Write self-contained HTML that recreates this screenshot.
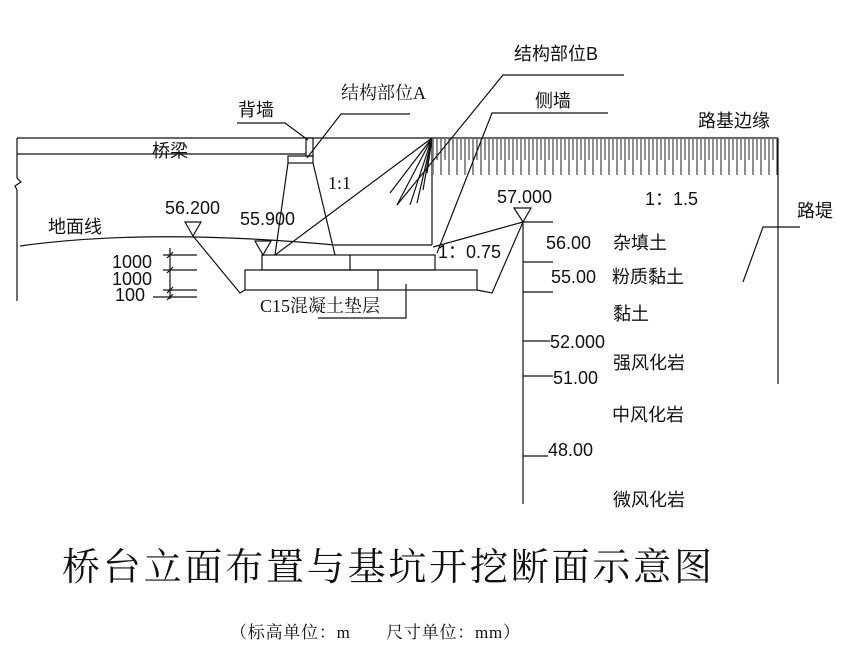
<!DOCTYPE html>
<html><head><meta charset="utf-8"><style>
html,body{margin:0;padding:0;background:#fff;}
svg{display:block;}
text{font-family:"Liberation Sans","Noto Sans CJK SC",sans-serif;fill:#111;}
.s{font-family:"Liberation Serif","Noto Serif CJK SC",serif;}
</style></head><body>
<svg width="865" height="664" viewBox="0 0 865 664" xmlns="http://www.w3.org/2000/svg">
<defs>
<pattern id="h" x="432" y="138" width="8" height="40" patternUnits="userSpaceOnUse">
<line x1="1" y1="0" x2="1" y2="37" stroke="#222" stroke-width="1"/>
<line x1="5" y1="0" x2="5" y2="22" stroke="#222" stroke-width="1"/>
</pattern>
</defs>
<g stroke="#111" stroke-width="1.2" fill="none">
<line x1="17" y1="138" x2="778" y2="138"/>
<rect x="433" y="139" width="345" height="38" fill="url(#h)" stroke="none"/>
<line x1="778" y1="138" x2="778" y2="384"/>
<line x1="17" y1="154" x2="306" y2="154"/>
<polyline points="17,138 17,178 21,182 15,186 17,190 17,301"/>
<rect x="306" y="138" width="7" height="18"/>
<rect x="288" y="156" width="25" height="7"/>
<polyline points="288,163 275,255"/>
<polyline points="313,163 335,255"/>
<line x1="432" y1="138" x2="432" y2="245"/>
<line x1="335" y1="245" x2="432" y2="245"/>
<line x1="275" y1="255" x2="432" y2="138"/>
<line x1="432" y1="138" x2="390" y2="193"/>
<line x1="432" y1="138" x2="397" y2="205"/>
<line x1="432" y1="138" x2="410" y2="205"/>
<line x1="432" y1="138" x2="417" y2="203"/>
<line x1="432" y1="138" x2="423" y2="190"/>
<line x1="432" y1="138" x2="427" y2="173"/>
<path d="M20,246 Q150,228 335,245"/>
<rect x="262" y="255" width="173" height="15"/>
<line x1="350" y1="255" x2="350" y2="270"/>
<rect x="245" y="270" width="232" height="20"/>
<line x1="378" y1="270" x2="378" y2="290"/>
<polyline points="193,236 240,293 245,290"/>
<polyline points="477,290 492,293 523,222"/>
<line x1="433" y1="247" x2="523" y2="222"/>
<polyline points="237,123 285,123 308,140"/>
<polyline points="410,114 341,114 307,158"/>
<polyline points="624,75 503,75 397,205"/>
<polyline points="608,113 492,113 437,253"/>
<polyline points="318,318 406,318 406,284"/>
<polyline points="800,227 763,227 743,282"/>
<polygon points="185,222 201,222 193,236"/>
<polygon points="255,241 271,241 263,255"/>
<polygon points="514,208 531,208 523,222"/>
<line x1="523" y1="222" x2="523" y2="504"/>
<line x1="523" y1="222" x2="553" y2="222"/>
<line x1="523" y1="262" x2="553" y2="262"/>
<line x1="523" y1="292" x2="553" y2="292"/>
<line x1="523" y1="341" x2="550" y2="341"/>
<line x1="523" y1="376" x2="553" y2="376"/>
<line x1="523" y1="456" x2="548" y2="456"/>
<line x1="163" y1="255" x2="197" y2="255"/>
<line x1="163" y1="270" x2="197" y2="270"/>
<line x1="163" y1="290" x2="197" y2="290"/>
<line x1="153" y1="297" x2="197" y2="297"/>
<line x1="170" y1="248" x2="170" y2="299"/>
<line x1="167" y1="258" x2="173" y2="252"/>
<line x1="167" y1="273" x2="173" y2="267"/>
<line x1="167" y1="293" x2="173" y2="287"/>
<line x1="167" y1="300" x2="173" y2="294"/>
</g>
<g font-size="18">
<text x="238" y="116">背墙</text>
<text x="341" y="99" class="s">结构部位A</text>
<text x="514" y="60">结构部位B</text>
<text x="535" y="107">侧墙</text>
<text x="698" y="127">路基边缘</text>
<text x="152" y="157">桥梁</text>
<text x="328" y="189" class="s">1:1</text>
<text x="165" y="214">56.200</text>
<text x="240" y="225">55.900</text>
<text x="48" y="233">地面线</text>
<text x="497" y="203">57.000</text>
<text x="645" y="205">1：1.5</text>
<text x="438" y="258">1：0.75</text>
<text x="797" y="217">路堤</text>
<text x="546" y="249">56.00</text><text x="613" y="249">杂填土</text>
<text x="551" y="283">55.00</text><text x="612" y="283">粉质黏土</text>
<text x="613" y="320">黏土</text>
<text x="550" y="348">52.000</text><text x="613" y="369">强风化岩</text>
<text x="553" y="384">51.00</text><text x="612" y="421">中风化岩</text>
<text x="548" y="456">48.00</text><text x="613" y="506">微风化岩</text>
<text x="260" y="312" class="s">C15混凝土垫层</text>
<text x="112" y="268">1000</text>
<text x="112" y="285">1000</text>
<text x="115" y="301">100</text>
</g>
<text x="62" y="580" font-size="38" class="s" textLength="650">桥台立面布置与基坑开挖断面示意图</text>
<text x="230" y="638" font-size="17" class="s" textLength="290">（标高单位：m　　尺寸单位：mm）</text>
</svg>
</body></html>
